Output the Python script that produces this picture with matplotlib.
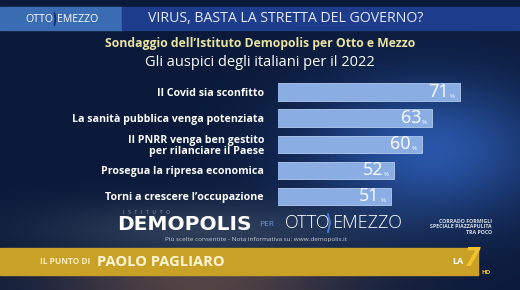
import matplotlib.pyplot as plt
import numpy as np
from matplotlib.patches import Rectangle

plt.rcParams['font.family'] = ['Open Sans', 'DejaVu Sans']

# poll data
items = ['Il Covid sia sconfitto',
         'La sanità pubblica venga potenziata',
         'Il PNRR venga ben gestito\nper rilanciare il Paese',
         'Prosegua la ripresa economica',
         'Torni a crescere l\u2019occupazione']
values = [71, 63, 60, 52, 51]

W, H = 520, 290
fig = plt.figure(figsize=(W / 100, H / 100), dpi=100)


def fx(x):
    return x / W


def fy(y):
    return 1 - y / H


# background (TV studio look)
bg = fig.add_axes([0, 0, 1, 1])
yy, xx = np.mgrid[0:H, 0:W]
img = np.zeros((H, W, 3))
img[:] = np.array([11, 26, 58]) / 255
glow = np.exp(-(((xx - 430) / 120) ** 2 + ((yy - 150) / 70) ** 2))
img += glow[..., None] * (np.array([30, 60, 110]) / 255)
glow2 = np.exp(-(((xx - 200) / 160) ** 2 + ((yy - 230) / 30) ** 2))
img += glow2[..., None] * (np.array([35, 35, 30]) / 255)
low = (yy > 272)
warm = np.exp(-(((xx - 200) / 150) ** 2)) * low
img += warm[..., None] * (np.array([70, 40, 10]) / 255)
img = np.clip(img, 0, 1)
bg.imshow(img, extent=[0, W, H, 0], aspect='auto')
bg.set_xlim(0, W)
bg.set_ylim(H, 0)
bg.axis('off')

# top band
bg.add_patch(Rectangle((0, 7), 122, 23, color='#3a6cb4', zorder=2))
bg.add_patch(Rectangle((122, 7), 398, 23, color='#1d3d8c', zorder=2))
bg.text(25, 19, 'OTTO', color='white', fontsize=7.6, va='center', ha='left', zorder=3)
bg.plot([54.5, 55.5, 54.5], [13, 19, 25], color='#0d2a6a', lw=1.2, zorder=3)
bg.text(57, 19, 'EMEZZO', color='white', fontsize=7.6, va='center', ha='left', zorder=3)
bg.text(148, 18.5, 'VIRUS, BASTA LA STRETTA DEL GOVERNO?', color='#e4eaf6',
        fontsize=10.2, va='center', ha='left', zorder=3)

# titles
bg.text(260, 44, 'Sondaggio dell\u2019Istituto Demopolis per Otto e Mezzo',
        color='#e9e3a2', fontsize=8.8, fontweight='bold', ha='center', va='center')
bg.text(260, 62, 'Gli auspici degli italiani per il 2022', color='white',
        fontsize=10.5, ha='center', va='center')

# bar chart
ax = fig.add_axes([fx(278), fy(209.5), fx(222), 130.5 / H])
ax.set_facecolor('none')
pos = np.arange(len(values))
bars = ax.barh(pos, values, height=0.67, color='#8aaee4', edgecolor='#b5ccf0',
               linewidth=0.6)
ax.set_xlim(18.3, 82.6)
ax.set_ylim(len(values) - 0.5, -0.5)
ax.set_yticks(pos)
ax.set_yticklabels(items, color='white', fontsize=7.7, fontweight='bold',
                   linespacing=1.05)
ax.tick_params(axis='y', length=0, pad=10)
ax.set_xticks([])
for s in ax.spines.values():
    s.set_visible(False)
for b, v in zip(bars, values):
    ax.annotate('%', (b.get_width(), b.get_y() + b.get_height() / 2),
                xytext=(-4, -5), textcoords='offset points', ha='right',
                va='bottom', color='white', fontsize=4.5)
    ax.annotate(str(v), (b.get_width(), b.get_y() + b.get_height() / 2),
                xytext=(-8, 0), textcoords='offset points', ha='right',
                va='center', color='white', fontsize=13)

# Demopolis footer logo
bg.text(123, 212, 'I   S   T   I   T   U   T   O', color='#9aa4b4', fontsize=3.5,
        ha='left', va='center')
bg.text(117, 224, 'DEMOPOLIS', color='white', fontsize=14.5, fontweight='heavy',
        family='DejaVu Sans', ha='left', va='center')
bg.text(259, 224, 'PER', color='#6f9ad8', fontsize=6, ha='left', va='center')
bg.text(285, 223, 'OTTO', color='white', fontsize=13, fontweight='light',
        ha='left', va='center')
bg.plot([328, 330, 328], [214, 223, 232], color='#3f7fd8', lw=1.3)
bg.text(332, 223, 'EMEZZO', color='white', fontsize=13, fontweight='light',
        ha='left', va='center')
bg.text(256, 239, 'Più scelte consentite - Nota informativa su: www.demopolis.it',
        color='#c8ccd6', fontsize=4.6, ha='center', va='center')

bg.text(492, 227, 'CORRADO FORMIGLI\nSPECIALE PIAZZAPULITA\nTRA POCO',
        color='#d8dce4', fontsize=3.8, fontweight='bold', ha='right', va='center',
        linespacing=1.1)

# yellow band
bg.add_patch(Rectangle((0, 248), 478, 27, color='#c9a127', zorder=2))
bg.text(40, 262, 'IL PUNTO DI', color='#fbeec0', fontsize=6, fontweight='bold',
        ha='left', va='center', zorder=3)
bg.text(97, 261.5, 'PAOLO PAGLIARO', color='#fff6d8', fontsize=10.5,
        fontweight='bold', ha='left', va='center', zorder=3)

# LA7 logo
bg.text(452, 261, 'LA', color='white', fontsize=6.5, fontweight='bold',
        ha='left', va='center', zorder=3)
bg.text(465, 259, '7', color='#f2c12e', fontsize=19, fontweight='bold',
        style='italic', ha='left', va='center', zorder=3)
bg.text(481, 272, 'HD', color='#f2c12e', fontsize=4.5, fontweight='bold',
        ha='left', va='center', zorder=3)

fig.savefig('out.png', dpi=100)
